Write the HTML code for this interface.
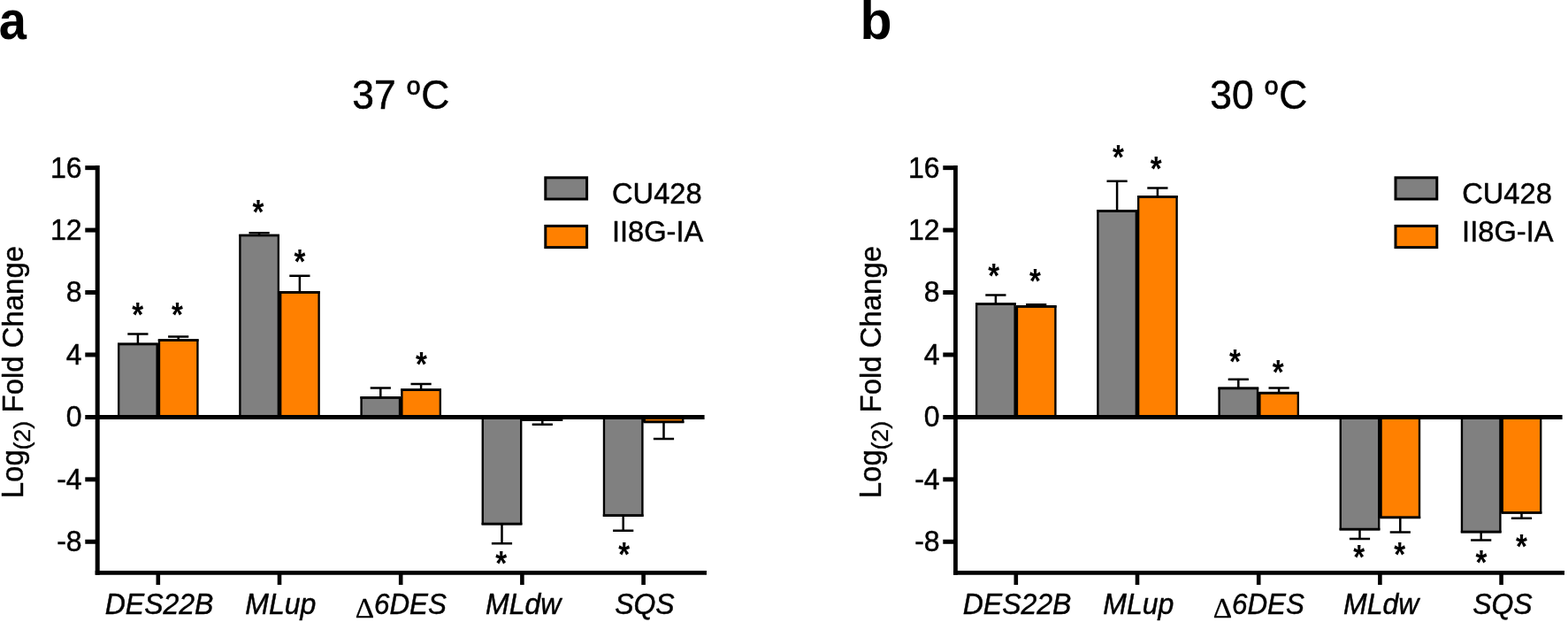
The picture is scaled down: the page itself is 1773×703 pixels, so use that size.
<!DOCTYPE html>
<html lang="en">
<head>
<meta charset="utf-8">
<title>Log2 Fold Change at 37 and 30 degrees</title>
<style>
html,body{margin:0;padding:0;background:#fff;}
body{width:1773px;height:703px;}
svg{display:block;}
text{font-family:"Liberation Sans", Arial, Helvetica, sans-serif;fill:#000;stroke:#000;stroke-width:0.45px;stroke-linejoin:round;}
.t{font-size:32px;}
.lg{font-size:33px;}
.x{font-size:32px;font-style:italic;}
.d{font-size:30.5px;font-family:"Liberation Serif","Times New Roman",serif;stroke-width:0.3px;}
.s{font-size:36px;font-weight:bold;stroke:none;}
.ti{font-size:44.4px;stroke-width:0.5px;}
.yl{font-size:35px;}
.o{font-size:40.4px;}
.sub{font-size:26px;stroke-width:0.35px;}
.pl{font-size:59px;font-weight:bold;stroke:none;}
.b{stroke:#000;stroke-width:2.35;}
.c{stroke:#000;stroke-width:2.7px;fill:none;}
.m{stroke:#000;stroke-width:1.6px;fill:none;}
.l{stroke-width:3px;}
.e{stroke:#000;stroke-width:2.5px;fill:none;}
.a{stroke:#000;stroke-width:4.6;fill:none;}
.z{stroke-width:4.8px;}
.k{stroke-width:5px;}
</style>
</head>
<body>
<svg width="1773" height="703" viewBox="0 0 1773 703">
<rect width="1773" height="703" fill="#fff"/>
<g>
<path d="M155.9 388.9 V377.6 M144.3 377.6 H167.5" class="e"/>
<rect x="134.18" y="388.9" width="43.45" height="82.5" fill="#808080" class="b"/>
<path d="M133 388.9 H178.8" class="c"/>
<path d="M201.7 384.5 V380.4 M190.1 380.4 H213.3" class="e"/>
<rect x="179.98" y="384.5" width="43.45" height="86.9" fill="#ff8000" class="b"/>
<path d="M178.8 384.5 H224.6" class="c"/>
<path d="M178.8 471.4 V388.9" class="m"/>
<path d="M293.1 266 V263.3 M281.5 263.3 H304.7" class="e"/>
<rect x="271.38" y="266" width="43.45" height="205.4" fill="#808080" class="b"/>
<path d="M270.2 266 H316" class="c"/>
<path d="M338.9 330.4 V311.8 M327.3 311.8 H350.5" class="e"/>
<rect x="317.18" y="330.4" width="43.45" height="141" fill="#ff8000" class="b"/>
<path d="M316 330.4 H361.8" class="c"/>
<path d="M316 471.4 V330.4" class="m"/>
<path d="M430.3 449.4 V438.4 M418.7 438.4 H441.9" class="e"/>
<rect x="408.57" y="449.4" width="43.45" height="22" fill="#808080" class="b"/>
<path d="M407.4 449.4 H453.2" class="c"/>
<path d="M476.1 440.6 V433.9 M464.5 433.9 H487.7" class="e"/>
<rect x="454.38" y="440.6" width="43.45" height="30.8" fill="#ff8000" class="b"/>
<path d="M453.2 440.6 H499" class="c"/>
<path d="M453.2 471.4 V449.4" class="m"/>
<path d="M567.5 592.1 V614.2 M555.9 614.2 H579.1" class="e"/>
<rect x="545.77" y="471.4" width="43.45" height="120.7" fill="#808080" class="b"/>
<path d="M544.6 592.1 H590.4" class="c"/>
<path d="M613.3 474.7 V479.8 M601.7 479.8 H624.9" class="e"/>
<rect x="591.57" y="471.4" width="43.45" height="3.3" fill="#ff8000" class="b"/>
<path d="M590.4 474.7 H636.2" class="c"/>
<path d="M590.4 471.4 V474.7" class="m"/>
<path d="M704.7 582.6 V599.8 M693.1 599.8 H716.3" class="e"/>
<rect x="682.97" y="471.4" width="43.45" height="111.2" fill="#808080" class="b"/>
<path d="M681.8 582.6 H727.6" class="c"/>
<path d="M750.5 476.9 V495.9 M738.9 495.9 H762.1" class="e"/>
<rect x="728.77" y="471.4" width="43.45" height="5.5" fill="#ff8000" class="b"/>
<path d="M727.6 476.9 H773.4" class="c"/>
<path d="M727.6 471.4 V476.9" class="m"/>
<path d="M110.2 187.1 V649.65" class="a" style="stroke-width:5px"/>
<path d="M107.7 647.35 H799" class="a"/>
<path d="M96.3 471.5 H796.6" class="a z"/>
<path d="M96.3 189.64 H110.4" class="a k"/>
<text class="t" text-anchor="end" transform="translate(92.6 200.54) scale(1 1.04)">16</text>
<path d="M96.3 260.08 H110.4" class="a k"/>
<text class="t" text-anchor="end" transform="translate(92.6 270.98) scale(1 1.04)">12</text>
<path d="M96.3 330.52 H110.4" class="a k"/>
<text class="t" text-anchor="end" transform="translate(92.6 341.42) scale(1 1.04)">8</text>
<path d="M96.3 400.96 H110.4" class="a k"/>
<text class="t" text-anchor="end" transform="translate(92.6 411.86) scale(1 1.04)">4</text>
<text class="t" text-anchor="end" transform="translate(92.6 482.3) scale(1 1.04)">0</text>
<path d="M96.3 541.84 H110.4" class="a k"/>
<text class="t" text-anchor="end" transform="translate(92.6 552.74) scale(1 1.04)">-4</text>
<path d="M96.3 612.28 H110.4" class="a k"/>
<text class="t" text-anchor="end" transform="translate(92.6 623.18) scale(1 1.04)">-8</text>
<path d="M178.8 647.35 V661" class="a"/>
<text class="x" text-anchor="middle" transform="translate(180.1 694.3) scale(1 1.04)">DES22B</text>
<path d="M316 647.35 V661" class="a"/>
<text class="x" text-anchor="middle" transform="translate(317.3 694.3) scale(1 1.03)">MLup</text>
<path d="M453.2 647.35 V661" class="a"/>
<text class="d" transform="translate(401.8 697.6) scale(1.09 1.04)">Δ</text>
<text class="x" transform="translate(423 694.3) scale(0.98 1.04)">6DES</text>
<path d="M590.4 647.35 V661" class="a"/>
<text class="x" text-anchor="middle" transform="translate(591.7 694.3) scale(1 1.03)">MLdw</text>
<path d="M727.6 647.35 V661" class="a"/>
<text class="x" text-anchor="middle" transform="translate(728.9 694.3) scale(1 1.04)">SQS</text>
<text class="s" text-anchor="middle" transform="translate(155.75 368.5) scale(0.92 1.07)">*</text>
<text class="s" text-anchor="middle" transform="translate(200.5 368.9) scale(0.92 1.07)">*</text>
<text class="s" text-anchor="middle" transform="translate(291.85 253.4) scale(0.92 1.07)">*</text>
<text class="s" text-anchor="middle" transform="translate(338.85 309.2) scale(0.92 1.07)">*</text>
<text class="s" text-anchor="middle" transform="translate(476.55 424.8) scale(0.92 1.07)">*</text>
<text class="s" text-anchor="middle" transform="translate(566.8 649.5) scale(0.92 1.07)">*</text>
<text class="s" text-anchor="middle" transform="translate(705.7 640) scale(0.92 1.07)">*</text>
<rect x="616.8" y="200.8" width="46.8" height="24.2" fill="#808080" class="b l"/>
<rect x="616.8" y="255.4" width="46.8" height="24.2" fill="#ff8000" class="b l"/>
<text class="lg" transform="translate(692 229.8) scale(0.99 1.03)">CU428</text>
<text class="lg" transform="translate(691.9 273.1) scale(0.99 1.03)">II8G-IA</text>
<text class="ti" text-anchor="middle" transform="translate(453.25 122.8) scale(1 1.05)">37 <tspan class="o" dx="0.2" dy="-3">º</tspan><tspan dx="1.3" dy="3">C</tspan></text>
<text class="yl" transform="translate(26.3 563.2) rotate(-90) scale(0.94 0.98)">Log</text>
<text class="sub" transform="translate(34.2 508.6) rotate(-90) scale(1.03 1)">(2)</text>
<text class="yl" transform="translate(26.3 466.4) rotate(-90) scale(0.94 0.96)">Fold Change</text>
<text class="pl" transform="translate(-1.2 43.8) scale(0.95 1.03)">a</text>
</g>
<g>
<path d="M1125.9 343.6 V333.4 M1114.3 333.4 H1137.5" class="e"/>
<rect x="1104.17" y="343.6" width="43.45" height="127.8" fill="#808080" class="b"/>
<path d="M1103 343.6 H1148.8" class="c"/>
<path d="M1171.7 346.4 V344.2 M1160.1 344.2 H1183.3" class="e"/>
<rect x="1149.97" y="346.4" width="43.45" height="125" fill="#ff8000" class="b"/>
<path d="M1148.8 346.4 H1194.6" class="c"/>
<path d="M1148.8 471.4 V346.4" class="m"/>
<path d="M1263.1 238.4 V204.7 M1251.5 204.7 H1274.7" class="e"/>
<rect x="1241.38" y="238.4" width="43.45" height="233" fill="#808080" class="b"/>
<path d="M1240.2 238.4 H1286" class="c"/>
<path d="M1308.9 222.4 V212.6 M1297.3 212.6 H1320.5" class="e"/>
<rect x="1287.17" y="222.4" width="43.45" height="249" fill="#ff8000" class="b"/>
<path d="M1286 222.4 H1331.8" class="c"/>
<path d="M1286 471.4 V238.4" class="m"/>
<path d="M1400.3 438.8 V428.7 M1388.7 428.7 H1411.9" class="e"/>
<rect x="1378.58" y="438.8" width="43.45" height="32.6" fill="#808080" class="b"/>
<path d="M1377.4 438.8 H1423.2" class="c"/>
<path d="M1446.1 444.2 V438.6 M1434.5 438.6 H1457.7" class="e"/>
<rect x="1424.38" y="444.2" width="43.45" height="27.2" fill="#ff8000" class="b"/>
<path d="M1423.2 444.2 H1469" class="c"/>
<path d="M1423.2 471.4 V444.2" class="m"/>
<path d="M1537.5 598.2 V608.9 M1525.9 608.9 H1549.1" class="e"/>
<rect x="1515.77" y="471.4" width="43.45" height="126.8" fill="#808080" class="b"/>
<path d="M1514.6 598.2 H1560.4" class="c"/>
<path d="M1583.3 584.8 V601.4 M1571.7 601.4 H1594.9" class="e"/>
<rect x="1561.57" y="471.4" width="43.45" height="113.4" fill="#ff8000" class="b"/>
<path d="M1560.4 584.8 H1606.2" class="c"/>
<path d="M1560.4 471.4 V584.8" class="m"/>
<path d="M1674.7 601.1 V610.6 M1663.1 610.6 H1686.3" class="e"/>
<rect x="1652.97" y="471.4" width="43.45" height="129.7" fill="#808080" class="b"/>
<path d="M1651.8 601.1 H1697.6" class="c"/>
<path d="M1720.5 579.5 V585.8 M1708.9 585.8 H1732.1" class="e"/>
<rect x="1698.77" y="471.4" width="43.45" height="108.1" fill="#ff8000" class="b"/>
<path d="M1697.6 579.5 H1743.4" class="c"/>
<path d="M1697.6 471.4 V579.5" class="m"/>
<path d="M1080.45 187.1 V649.65" class="a" style="stroke-width:4.8px"/>
<path d="M1078.05 647.35 H1769" class="a"/>
<path d="M1066.3 471.5 H1766.6" class="a z"/>
<path d="M1066.3 189.64 H1080.4" class="a k"/>
<text class="t" text-anchor="end" transform="translate(1062.6 200.54) scale(1 1.04)">16</text>
<path d="M1066.3 260.08 H1080.4" class="a k"/>
<text class="t" text-anchor="end" transform="translate(1062.6 270.98) scale(1 1.04)">12</text>
<path d="M1066.3 330.52 H1080.4" class="a k"/>
<text class="t" text-anchor="end" transform="translate(1062.6 341.42) scale(1 1.04)">8</text>
<path d="M1066.3 400.96 H1080.4" class="a k"/>
<text class="t" text-anchor="end" transform="translate(1062.6 411.86) scale(1 1.04)">4</text>
<text class="t" text-anchor="end" transform="translate(1062.6 482.3) scale(1 1.04)">0</text>
<path d="M1066.3 541.84 H1080.4" class="a k"/>
<text class="t" text-anchor="end" transform="translate(1062.6 552.74) scale(1 1.04)">-4</text>
<path d="M1066.3 612.28 H1080.4" class="a k"/>
<text class="t" text-anchor="end" transform="translate(1062.6 623.18) scale(1 1.04)">-8</text>
<path d="M1148.8 647.35 V661" class="a"/>
<text class="x" text-anchor="middle" transform="translate(1150.1 694.3) scale(1 1.04)">DES22B</text>
<path d="M1286 647.35 V661" class="a"/>
<text class="x" text-anchor="middle" transform="translate(1287.3 694.3) scale(1 1.03)">MLup</text>
<path d="M1423.2 647.35 V661" class="a"/>
<text class="d" transform="translate(1371.8 697.6) scale(1.09 1.04)">Δ</text>
<text class="x" transform="translate(1393 694.3) scale(0.98 1.04)">6DES</text>
<path d="M1560.4 647.35 V661" class="a"/>
<text class="x" text-anchor="middle" transform="translate(1561.7 694.3) scale(1 1.03)">MLdw</text>
<path d="M1697.6 647.35 V661" class="a"/>
<text class="x" text-anchor="middle" transform="translate(1698.9 694.3) scale(1 1.04)">SQS</text>
<text class="s" text-anchor="middle" transform="translate(1123.7 325.4) scale(0.92 1.07)">*</text>
<text class="s" text-anchor="middle" transform="translate(1170.4 330.8) scale(0.92 1.07)">*</text>
<text class="s" text-anchor="middle" transform="translate(1264.35 191.4) scale(0.92 1.07)">*</text>
<text class="s" text-anchor="middle" transform="translate(1307.15 203.8) scale(0.92 1.07)">*</text>
<text class="s" text-anchor="middle" transform="translate(1396.55 421.8) scale(0.92 1.07)">*</text>
<text class="s" text-anchor="middle" transform="translate(1445.3 433.8) scale(0.92 1.07)">*</text>
<text class="s" text-anchor="middle" transform="translate(1536.8 642.5) scale(0.92 1.07)">*</text>
<text class="s" text-anchor="middle" transform="translate(1582.7 639.8) scale(0.92 1.07)">*</text>
<text class="s" text-anchor="middle" transform="translate(1674.95 649) scale(0.92 1.07)">*</text>
<text class="s" text-anchor="middle" transform="translate(1720.4 630.9) scale(0.92 1.07)">*</text>
<rect x="1578" y="200.8" width="46.8" height="24.2" fill="#808080" class="b l"/>
<rect x="1578" y="255.4" width="46.8" height="24.2" fill="#ff8000" class="b l"/>
<text class="lg" transform="translate(1653.2 229.8) scale(0.99 1.03)">CU428</text>
<text class="lg" transform="translate(1653.1 273.1) scale(0.99 1.03)">II8G-IA</text>
<text class="ti" text-anchor="middle" transform="translate(1423.25 122.8) scale(1 1.05)">30 <tspan class="o" dx="0.2" dy="-3">º</tspan><tspan dx="1.3" dy="3">C</tspan></text>
<text class="yl" transform="translate(996.3 563.2) rotate(-90) scale(0.94 0.98)">Log</text>
<text class="sub" transform="translate(1004.2 508.6) rotate(-90) scale(1.03 1)">(2)</text>
<text class="yl" transform="translate(996.3 466.4) rotate(-90) scale(0.94 0.96)">Fold Change</text>
<text class="pl" transform="translate(972.4 43.8) scale(1 1.03)">b</text>
</g>
</svg>
</body>
</html>
